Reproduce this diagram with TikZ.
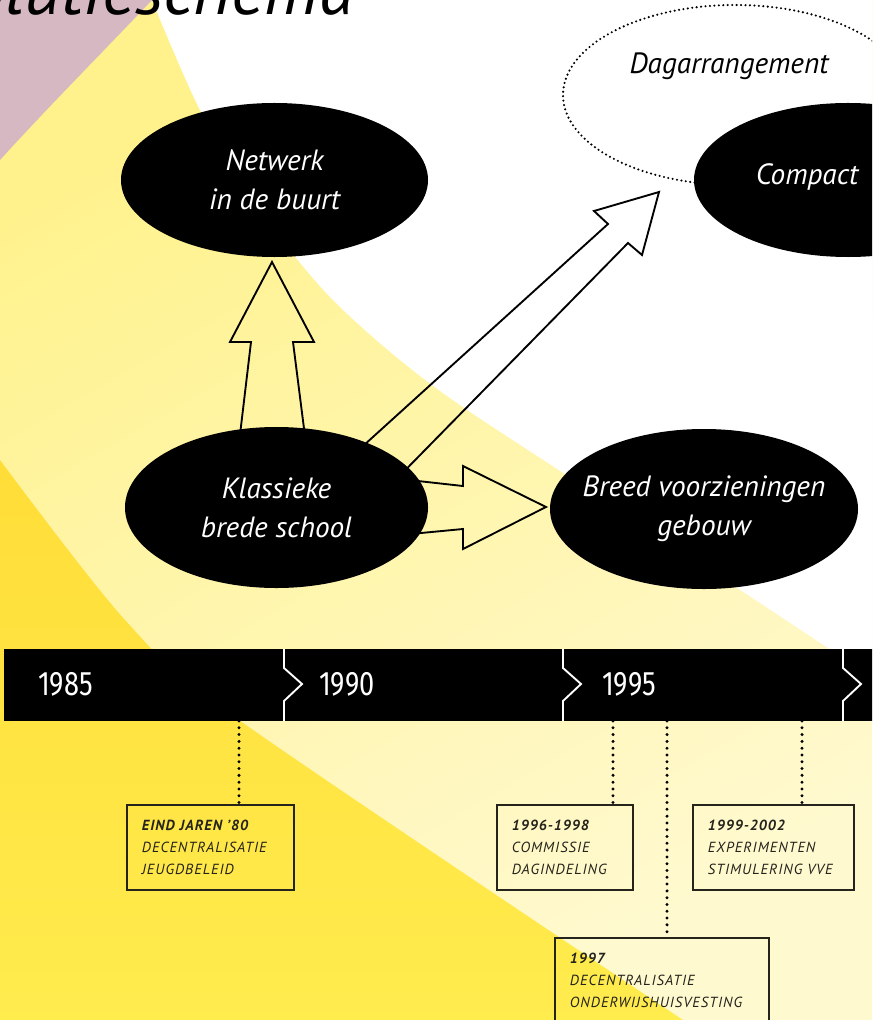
\documentclass[tikz,border=0pt]{standalone}
\usepackage{fontspec}
\setmainfont{PT Sans}
\newfontfamily\jaarfont[FakeStretch=0.8]{Fira Sans}
\newfontfamily\kaderfont[LetterSpace=7]{PT Sans}
\usetikzlibrary{shapes.geometric}

\definecolor{roze}{HTML}{D5B8C1}
\definecolor{geel}{HTML}{FFF28C}
\definecolor{lichtgeel}{HTML}{FFF9D0}
\definecolor{felgeel}{HTML}{FFDD38}
\definecolor{felgeelb}{HTML}{FFEC4E}
\definecolor{kaderlijn}{HTML}{24231C}

\begin{document}
\begin{tikzpicture}[x=0.03cm, y=-0.03cm,
  bol/.style={ellipse, fill=black, text=white, inner ysep=0pt, inner xsep=-1cm, align=center,
    font=\itshape\fontsize{25}{33}\selectfont},
  kader/.style={draw=kaderlijn, line width=1.5pt, anchor=north west, align=left,
    text width=#1, inner xsep=0.45cm, minimum height=2.55cm, text=kaderlijn,
    font=\kaderfont\itshape\fontsize{12.5}{18.7}\selectfont},
  jaar/.style={anchor=west, text=white, font=\jaarfont\fontsize{29}{29}\selectfont},
  stip/.style={line width=2.8pt, line cap=round, dash pattern=on 0pt off 5.8pt},
  pijl/.style={line width=1.6pt, line join=miter}]

  \useasboundingbox (0,0) rectangle (872,1020);
  \clip (0,0) rectangle (872,1020);

  %--- Achtergrond ---
  \shade[top color=geel, bottom color=lichtgeel, shading angle=30] (0,0) rectangle (872,1020);
  \fill[white] plot[smooth] coordinates {(152,0) (200,110) (260,210) (333,300) (436,388) (600,497) (872,677)}
    -- (872,-10) -- (152,-10) -- cycle;
  \fill[roze] (-5,-5) -- (155,-5) -- (152,0) .. controls (100,55) and (50,105) .. (0,160) -- (-5,160) -- cycle;
  \shade[top color=felgeel, bottom color=felgeelb] plot[smooth] coordinates {(0,460) (125,620) (239,720) (683,1020)}
    -- (683,1030) -- (-5,1030) -- (-5,460) -- cycle;

  %--- Titel ---
  \node[anchor=base east, font=\itshape\fontsize{61}{61}\selectfont] (titel) at (358,15) {Evolutieschema};

  %--- Pijlen ---
  \draw[pijl] (237,460) -- (251,342) -- (230,342) -- (272,262) -- (314,342) -- (293,342) -- (308,460);
  \draw[pijl] (400,479) -- (463,486) -- (463,466) -- (546,507) -- (463,549) -- (463,529) -- (400,535);
  \draw[pijl] (331,475) -- (608,224) -- (594,211) -- (659,192) -- (642,255) -- (628,243) -- (375,501);

  %--- Dagarrangement ---
  \node[ellipse, draw, line width=2pt, line cap=round, dash pattern=on 0pt off 3.8pt,
    minimum width=10.32cm, minimum height=5.4cm] (dag) at (735,95) {};
  \node[font=\itshape\fontsize{25}{33}\selectfont] (dagtekst) at (729,66) {Dagarrangement};

  %--- Bollen ---
  \node[bol, minimum width=9.21cm, minimum height=4.62cm] (netwerk) at (274.5,180) {Netwerk\\in de buurt};
  \node[bol, minimum width=9.09cm, minimum height=4.83cm] (klassiek) at (276.5,507.5) {Klassieke\\brede school};
  \node[bol, minimum width=9.24cm, minimum height=4.80cm] (breed) at (704,509) {Breed voorzieningen\\gebouw};
  \node[bol, minimum width=9.24cm, minimum height=4.62cm] (compact) at (848,180) {};
  \node[text=white, font=\itshape\fontsize{25}{33}\selectfont] (compacttekst) at (807,177) {Compact};

  %--- Tijdlijn ---
  \fill (4,649) rectangle (880,721);
  \foreach \x in {284,563,843}
    \draw[white, line width=1.6pt] (\x,649) -- (\x,668) -- (\x+18,684) -- (\x,701) -- (\x,721);
  \node[jaar] (j85) at (34,684) {1985};
  \node[jaar] (j90) at (315,684) {1990};
  \node[jaar] (j95) at (598,684) {1995};

  %--- Markeringen ---
  \coordinate (m1) at (239,721);
  \coordinate (m2) at (613,721);
  \coordinate (m3) at (667,721);
  \coordinate (m4) at (802,721);

  %--- Kaders ---
  \node[kader=4.11cm] (k1) at (126,804) {\textbf{EIND JAREN ’80}\\DECENTRALISATIE\\JEUGDBELEID};
  \node[kader=3.18cm] (k2) at (496,804) {\textbf{1996-1998}\\COMMISSIE\\DAGINDELING};
  \node[kader=3.93cm] (k3) at (692,804) {\textbf{1999-2002}\\EXPERIMENTEN\\STIMULERING VVE};
  \node[kader=5.52cm] (k4) at (554,937) {\textbf{1997}\\DECENTRALISATIE\\ONDERWIJSHUISVESTING};

  \draw[stip] (m1) -- (m1 |- k1.north);
  \draw[stip] (m2) -- (m2 |- k2.north);
  \draw[stip] (m3) -- (m3 |- k4.north);
  \draw[stip] (m4) -- (m4 |- k3.north);

\end{tikzpicture}
\end{document}
